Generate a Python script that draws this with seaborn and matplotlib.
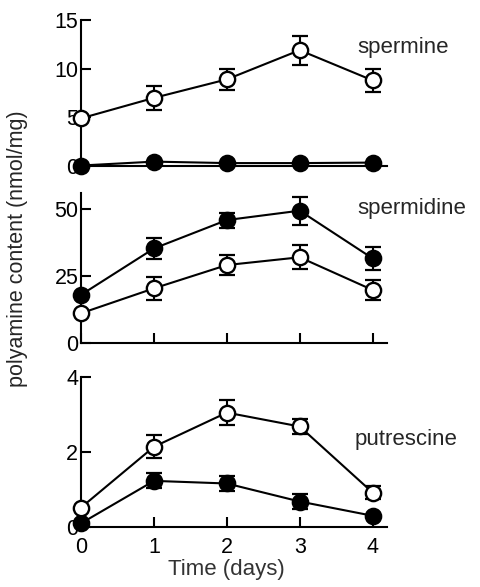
import seaborn as sns
import pandas as pd
import matplotlib.pyplot as plt

# data
days = [0, 1, 2, 3, 4]

spermine_open = [4.9, 7.0, 8.9, 11.9, 8.8]
spermine_open_err = [0, 1.2, 1.1, 1.5, 1.15]
spermine_filled = [0.05, 0.45, 0.3, 0.3, 0.35]
spermine_filled_err = [0, 0, 0, 0, 0]

spermidine_open = [11.1, 20.4, 29.1, 32.0, 19.8]
spermidine_open_err = [0, 4.2, 3.9, 4.5, 3.6]
spermidine_filled = [18.0, 35.3, 45.9, 49.4, 31.6]
spermidine_filled_err = [0, 4.0, 2.8, 5.2, 4.2]

putrescine_open = [0.52, 2.14, 3.05, 2.68, 0.92]
putrescine_open_err = [0, 0.3, 0.33, 0.2, 0.18]
putrescine_filled = [0.1, 1.23, 1.16, 0.68, 0.3]
putrescine_filled_err = [0, 0.2, 0.2, 0.2, 0]

panels = ['spermine', 'spermidine', 'putrescine']
yticks = {'spermine': [0, 5, 10, 15], 'spermidine': [0, 25, 50], 'putrescine': [0, 2, 4]}
ylims = {'spermine': (0, 15), 'spermidine': (0, 56), 'putrescine': (0, 4)}

rows = []
for name, op, ope, fi, fie in [
        ('spermine', spermine_open, spermine_open_err, spermine_filled, spermine_filled_err),
        ('spermidine', spermidine_open, spermidine_open_err, spermidine_filled, spermidine_filled_err),
        ('putrescine', putrescine_open, putrescine_open_err, putrescine_filled, putrescine_filled_err)]:
    for d, v, e in zip(days, op, ope):
        rows.append({'panel': name, 'group': 'open', 'day': d, 'value': v, 'err': e})
    for d, v, e in zip(days, fi, fie):
        rows.append({'panel': name, 'group': 'filled', 'day': d, 'value': v, 'err': e})
df = pd.DataFrame(rows)

sns.set_style('ticks')
plt.rcParams['font.family'] = ['Liberation Sans', 'DejaVu Sans']

fig = plt.figure(figsize=(4.8, 5.87), dpi=100)

# axes boxes (left, bottom, width, height) in figure fraction
boxes = {'spermine': [0.169, 0.7172, 0.6375, 0.2487],
         'spermidine': [0.169, 0.4157, 0.6375, 0.2555],
         'putrescine': [0.169, 0.1022, 0.6375, 0.2556]}
label_pos = {'spermine': 0.815, 'spermidine': 0.90, 'putrescine': 0.58}
label_x = {'spermine': 0.902, 'spermidine': 0.902, 'putrescine': 0.895}

for name in panels:
    ax = fig.add_axes(boxes[name])
    sub = df[df['panel'] == name]
    for grp, face in [('filled', 'black'), ('open', 'white')]:
        g = sub[sub['group'] == grp]
        ax.errorbar(g['day'], g['value'], yerr=g['err'], fmt='none', ecolor='black',
                    elinewidth=1.5, capsize=6, capthick=1.6, zorder=2, clip_on=False)
        sns.lineplot(data=g, x='day', y='value', ax=ax, color='black', linewidth=1.5,
                     marker='o', markersize=11, markerfacecolor=face,
                     markeredgecolor='black', markeredgewidth=1.7,
                     clip_on=False, zorder=3, legend=False)
    ax.set_xlim(0, 4.2)
    ax.set_ylim(*ylims[name])
    ax.set_yticks(yticks[name])
    ax.set_xticks(days)
    ax.set_xlabel('')
    ax.set_ylabel('')
    sns.despine(ax=ax)
    for s in ['left', 'bottom']:
        ax.spines[s].set_linewidth(1.5)
        ax.spines[s].set_color('black')
    ax.tick_params(axis='y', direction='in', length=7, width=1.5, pad=2,
                   labelsize=15.5, colors='black')
    ax.tick_params(axis='x', direction='in', length=7, width=1.5, pad=7,
                   labelsize=15.5, colors='black')
    if name != 'putrescine':
        ax.set_xticklabels([])
    if name == 'spermine':
        ax.tick_params(axis='x', length=0)
    ax.text(label_x[name], label_pos[name], name, transform=ax.transAxes,
            fontsize=16, va='center', ha='left')

fig.text(0.037, 0.577, 'polyamine content (nmol/mg)', rotation=90,
         fontsize=15.5, va='center', ha='center')
fig.text(0.471, 0.029, 'Time (days)', fontsize=16, va='center', ha='center',
         color='#333333')

plt.savefig('out.png', dpi=100)
